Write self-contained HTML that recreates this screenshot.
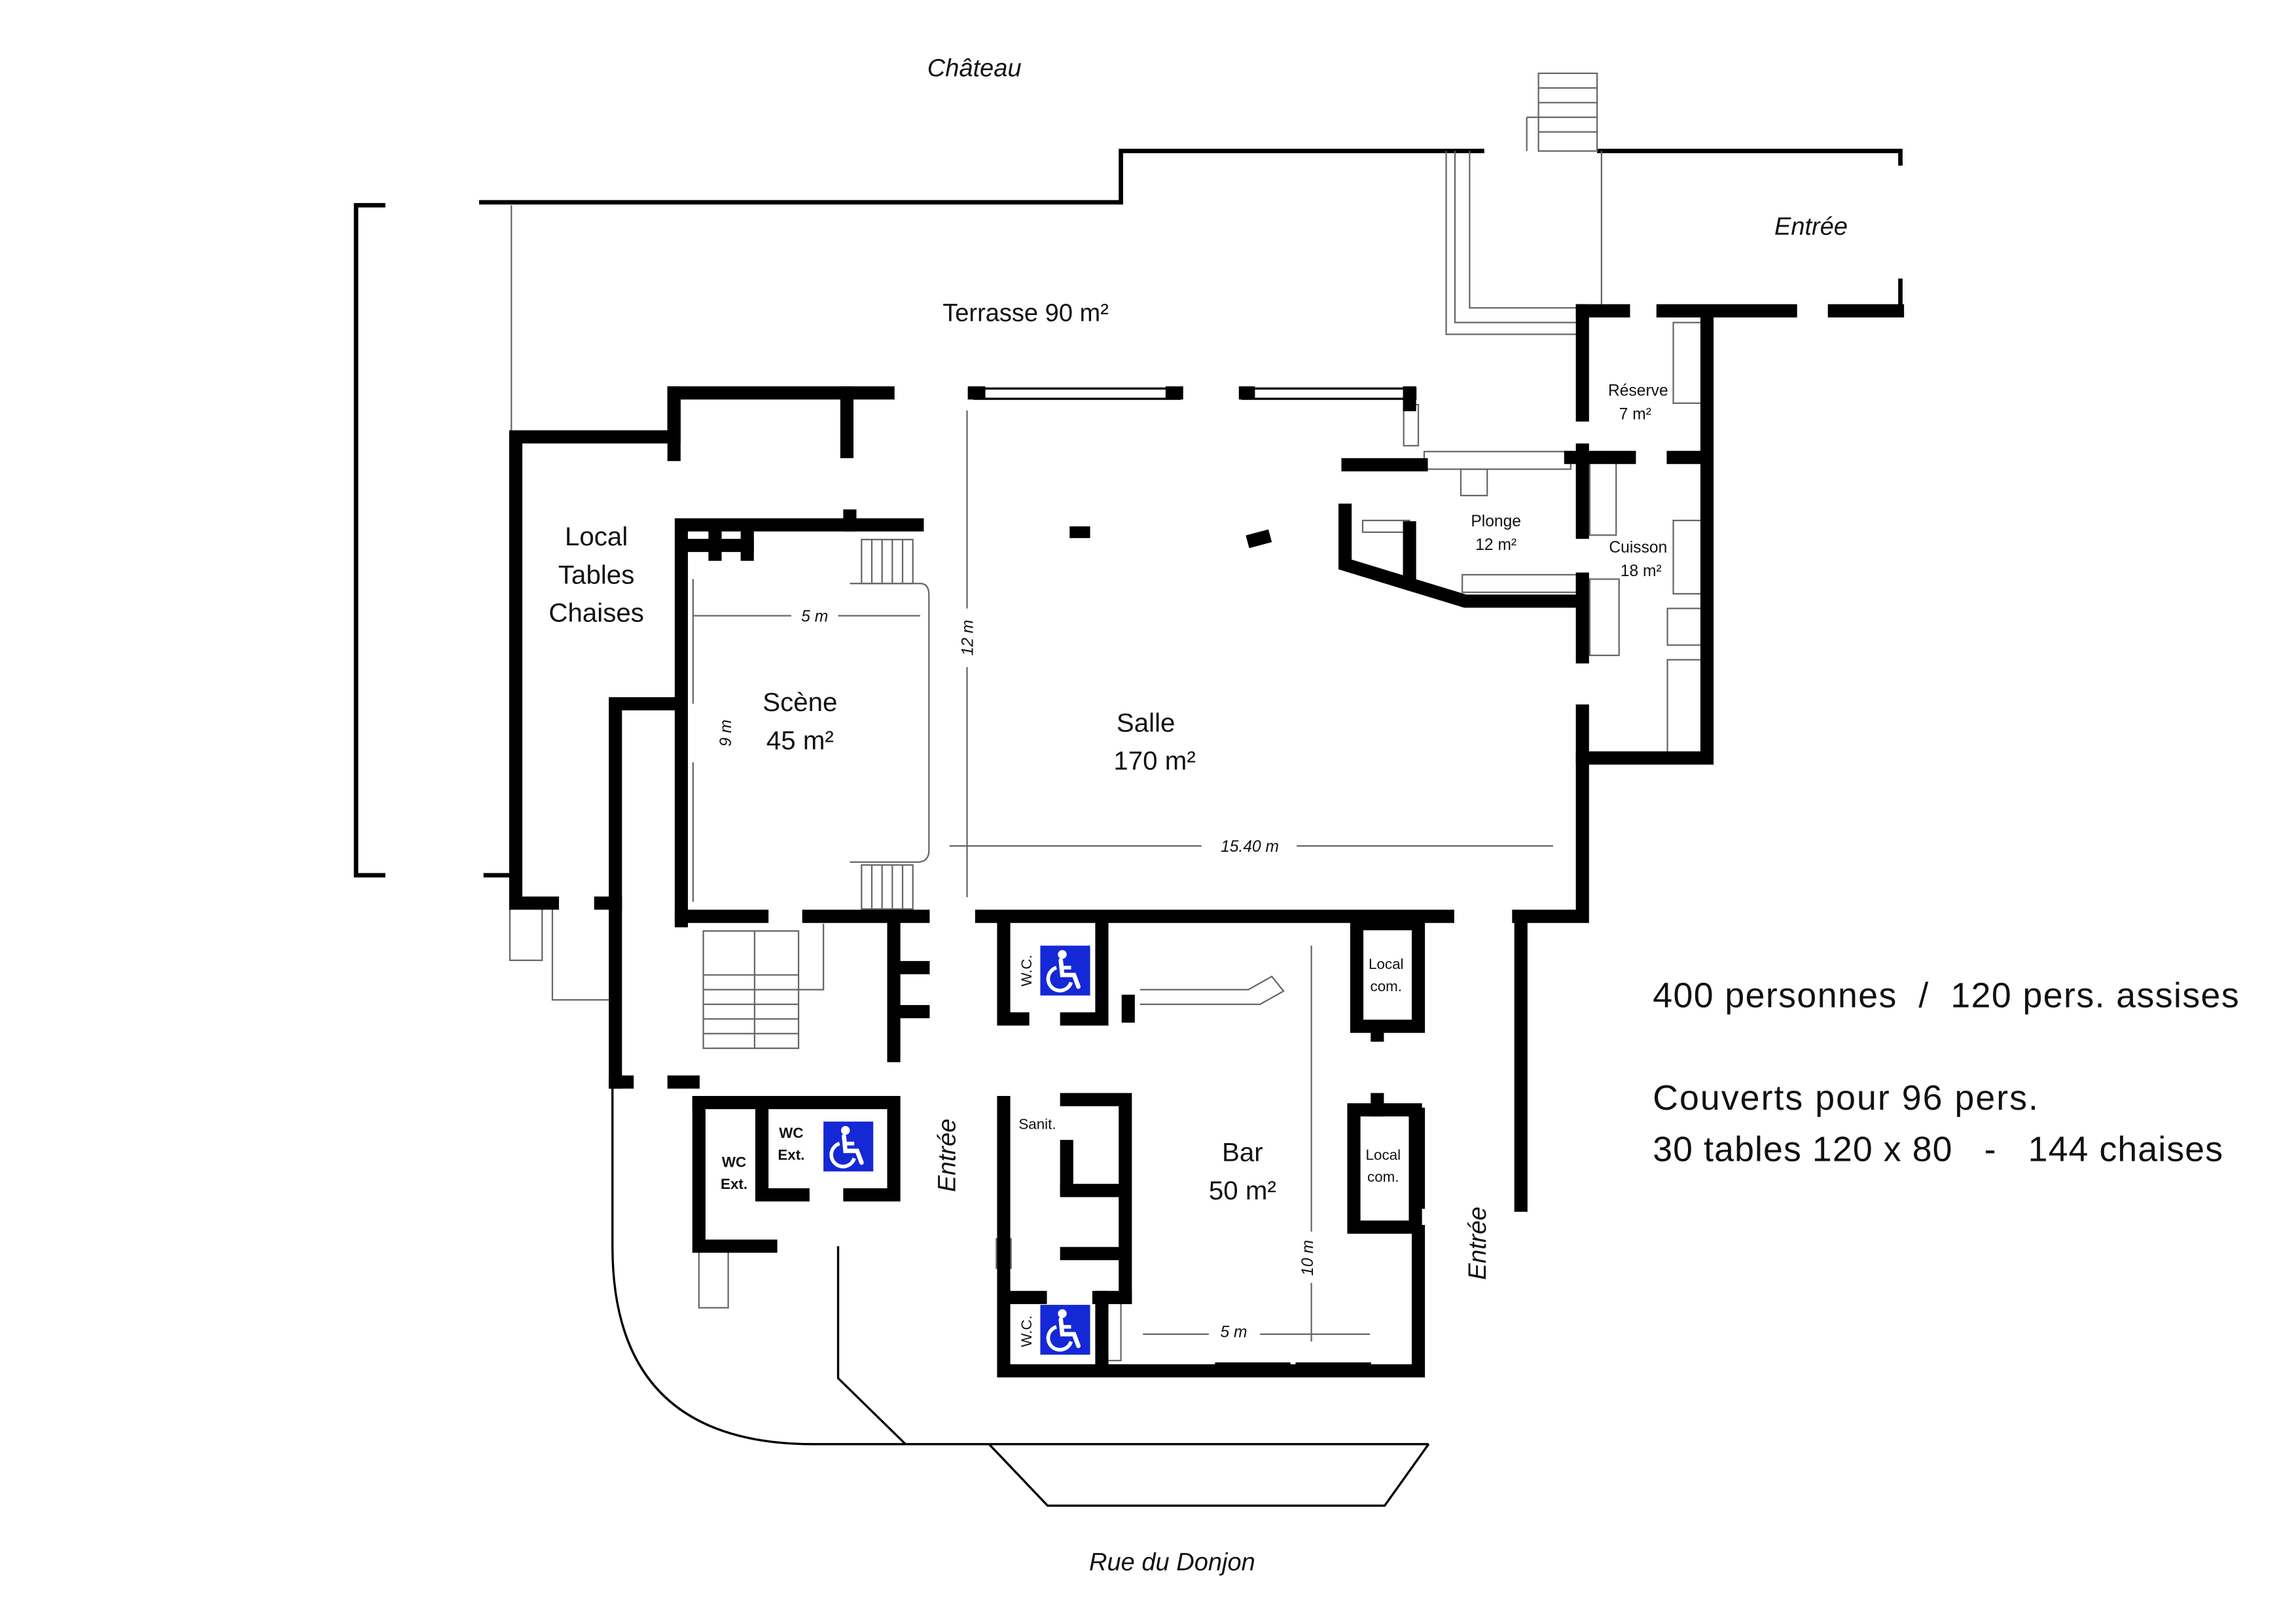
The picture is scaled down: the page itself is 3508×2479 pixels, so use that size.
<!DOCTYPE html>
<html><head><meta charset="utf-8"><style>
html,body{margin:0;padding:0;background:#fff}
svg{display:block}
text{font-family:"Liberation Sans",Arial,sans-serif;fill:#111}
.it{font-style:italic}
</style></head><body>
<svg width="3508" height="2479" viewBox="0 0 1567 1107" preserveAspectRatio="none" xmlns="http://www.w3.org/2000/svg">
<defs>
<g id="wc">
<rect x="0" y="0" width="34" height="34" fill="#1428d6"/>
<circle cx="15" cy="6" r="3" fill="#fff"/>
<path d="M14,10 L15,20 H23 L26,28" stroke="#fff" stroke-width="3" fill="none" stroke-linecap="round"/>
<path d="M14,15 H21" stroke="#fff" stroke-width="2.5"/>
<path d="M11,15 A8,8 0 1 0 21,25" stroke="#fff" stroke-width="2.5" fill="none"/>
</g>
</defs>
<rect width="1567" height="1107" fill="#fff"/>
<g stroke="#000" stroke-width="3" fill="none">
<polyline points="327,138 765,138 765,103 1013,103"/>
<polyline points="1090,103 1297,103 1297,113"/>
<line x1="1297" y1="190" x2="1297" y2="215"/>
<polyline points="263,140 243,140 243,597 263,597"/>
<line x1="330" y1="597" x2="348" y2="597"/>
</g>
<g stroke="#666" stroke-width="1" fill="none">
<line x1="349" y1="140" x2="349" y2="295"/>
<polyline points="987,103 987,228 1077,228"/>
<polyline points="993,103 993,220 1077,220"/>
<polyline points="1003,103 1003,210 1077,210"/>
<line x1="1093" y1="103" x2="1093" y2="212"/>
<rect x="1050" y="50" width="40" height="53"/>
<line x1="1042" y1="80" x2="1050" y2="80"/><line x1="1042" y1="80" x2="1042" y2="103"/>
<line x1="1050" y1="60" x2="1090" y2="60"/><line x1="1050" y1="70" x2="1090" y2="70"/><line x1="1050" y1="80" x2="1090" y2="80"/><line x1="1050" y1="90" x2="1090" y2="90"/>
<rect x="588" y="368" width="35" height="30"/>
<line x1="595" y1="368" x2="595" y2="398"/><line x1="602" y1="368" x2="602" y2="398"/><line x1="609" y1="368" x2="609" y2="398"/><line x1="616" y1="368" x2="616" y2="398"/>
<rect x="588" y="590" width="35" height="30"/>
<line x1="595" y1="590" x2="595" y2="620"/><line x1="602" y1="590" x2="602" y2="620"/><line x1="609" y1="590" x2="609" y2="620"/><line x1="616" y1="590" x2="616" y2="620"/>
<path d="M580,398 H628 Q634,398 634,406 V580 Q634,588 626,588 H580"/>
<rect x="480" y="635" width="65" height="80"/>
<line x1="480" y1="665" x2="545" y2="665"/><line x1="480" y1="675" x2="545" y2="675"/><line x1="480" y1="685" x2="545" y2="685"/><line x1="480" y1="695" x2="545" y2="695"/><line x1="480" y1="705" x2="545" y2="705"/>
<polyline points="515,635 515,715"/>
<polyline points="545,675 562,675 562,630"/>
<rect x="348" y="620" width="22" height="35"/>
<polyline points="377,620 377,682 418,682"/>
<rect x="477" y="852" width="20" height="40"/>
<polyline points="778,685 860,685 876,676 868,666 852,675 778,675"/>
<rect x="972" y="308" width="100" height="12"/><rect x="997" y="320" width="18" height="18"/>
<rect x="998" y="392" width="78" height="12"/><rect x="1085" y="315" width="18" height="50"/>
<rect x="1085" y="395" width="20" height="52"/><rect x="1142" y="220" width="22" height="55"/>
<rect x="1142" y="355" width="22" height="50"/><rect x="1138" y="415" width="26" height="25"/>
<rect x="1138" y="450" width="26" height="65"/>
<rect x="958" y="276" width="10" height="28"/>
<rect x="930" y="355" width="32" height="8"/>
<line x1="473" y1="420" x2="540" y2="420"/><line x1="572" y1="420" x2="628" y2="420"/>
<line x1="473" y1="395" x2="473" y2="480"/><line x1="473" y1="520" x2="473" y2="615"/>
<line x1="660" y1="280" x2="660" y2="415"/><line x1="660" y1="455" x2="660" y2="612"/>
<line x1="648" y1="577" x2="820" y2="577"/><line x1="885" y1="577" x2="1060" y2="577"/>
<line x1="895" y1="645" x2="895" y2="840"/><line x1="895" y1="875" x2="895" y2="915"/>
<line x1="780" y1="910" x2="825" y2="910"/><line x1="860" y1="910" x2="935" y2="910"/>
<rect x="680" y="845" width="10" height="20"/>
<rect x="755" y="888" width="10" height="40"/>
</g>
<g stroke="#000" stroke-width="1.5" fill="none">
<path d="M418,740 V850 Q418,985 555,985 H975"/>
<polyline points="572,850 572,940 618,985"/>
<polyline points="675,985 715,1027 945,1027 975,985"/>
<rect x="665" y="265" width="140" height="7"/>
<rect x="848" y="265" width="118" height="7"/>
<rect x="830" y="930" width="50" height="8" fill="#fff"/>
<rect x="885" y="930" width="50" height="8" fill="#fff"/>
</g>
<g stroke="#000" stroke-width="9" fill="none" stroke-linecap="square">
<polyline points="377,616 352,616 352,298 460,298 460,268 606,268"/>
<line x1="460" y1="268" x2="460" y2="310"/>
<line x1="578" y1="268" x2="578" y2="308"/>
<polyline points="465,628 465,358 626,358"/>
<line x1="580" y1="352" x2="580" y2="358"/>
<polyline points="460,480 420,480 420,738"/>
<line x1="410" y1="616" x2="420" y2="616"/>
<line x1="428" y1="738" x2="420" y2="738"/>
<line x1="460" y1="738" x2="473" y2="738"/>
<line x1="665" y1="268" x2="668" y2="268"/><line x1="800" y1="268" x2="803" y2="268"/>
<line x1="850" y1="268" x2="852" y2="268"/>
<line x1="962" y1="268" x2="962" y2="276"/>
<line x1="1080" y1="212" x2="1108" y2="212"/><line x1="1135" y1="212" x2="1222" y2="212"/><line x1="1252" y1="212" x2="1295" y2="212"/>
<line x1="1080" y1="212" x2="1080" y2="283"/>
<line x1="1080" y1="307" x2="1080" y2="363"/>
<line x1="1080" y1="395" x2="1080" y2="448"/>
<polyline points="1080,485 1080,625 1032,625 1038,625 1038,822"/>
<polyline points="1080,517 1165,517 1165,215"/>
<line x1="1072" y1="312" x2="1112" y2="312"/><line x1="1142" y1="312" x2="1162" y2="312"/>
<line x1="920" y1="317" x2="970" y2="317"/>
<polyline points="918,348 918,385 1000,410 1076,410"/>
<line x1="962" y1="360" x2="962" y2="395"/>
<line x1="465" y1="625" x2="520" y2="625"/>
<line x1="552" y1="625" x2="630" y2="625"/>
<line x1="670" y1="625" x2="988" y2="625"/>
<line x1="610" y1="630" x2="610" y2="720"/>
<line x1="612" y1="660" x2="630" y2="660"/><line x1="612" y1="690" x2="630" y2="690"/>
<polyline points="685,630 685,695 698,695"/>
<polyline points="752,630 752,695 728,695"/>
<line x1="770" y1="683" x2="770" y2="693"/>
<rect x="926" y="630" width="42" height="70"/>
<line x1="940" y1="700" x2="940" y2="706"/>
<polyline points="685,752 685,935 968,935 968,840"/>
<line x1="968" y1="760" x2="968" y2="820"/>
<rect x="924" y="757" width="42" height="80"/>
<line x1="940" y1="750" x2="940" y2="757"/>
<polyline points="728,750 768,750 768,885"/>
<line x1="728" y1="782" x2="728" y2="810"/>
<line x1="728" y1="812" x2="766" y2="812"/>
<line x1="728" y1="855" x2="766" y2="855"/>
<polyline points="688,885 710,885"/>
<line x1="750" y1="885" x2="768" y2="885"/>
<line x1="752" y1="885" x2="752" y2="930"/>
<polyline points="477,752 610,752 610,815 580,815"/>
<polyline points="477,752 477,850 526,850"/>
<polyline points="520,752 520,815 548,815"/>
<line x1="470" y1="372" x2="510" y2="372"/>
<line x1="488" y1="365" x2="488" y2="378"/>
<line x1="510" y1="362" x2="510" y2="378"/>
</g>
<rect x="730" y="359" width="14" height="8" fill="#000"/>
<rect x="851" y="363" width="16" height="9" fill="#000" transform="rotate(-15 859 367)"/>
<use href="#wc" x="710" y="645"/>
<use href="#wc" x="562" y="765"/>
<use href="#wc" x="710" y="890"/>
<text x="665" y="52" font-size="17" class="it" text-anchor="middle">Château</text>
<text x="1236" y="160" font-size="17" class="it" text-anchor="middle">Entrée</text>
<text x="700" y="219" font-size="17" text-anchor="middle">Terrasse 90 m²</text>
<text x="407" y="372" font-size="18" text-anchor="middle">Local</text>
<text x="407" y="398" font-size="18" text-anchor="middle">Tables</text>
<text x="407" y="424" font-size="18" text-anchor="middle">Chaises</text>
<text x="546" y="485" font-size="18" text-anchor="middle">Scène</text>
<text x="546" y="511" font-size="18" text-anchor="middle">45 m²</text>
<text x="782" y="499" font-size="18" text-anchor="middle">Salle</text>
<text x="788" y="525" font-size="18" text-anchor="middle">170 m²</text>
<text x="556" y="424" font-size="11" class="it" text-anchor="middle">5 m</text>
<text x="853" y="581" font-size="11" class="it" text-anchor="middle">15.40 m</text>
<text x="0" y="0" font-size="11" class="it" text-anchor="middle" transform="translate(499,500) rotate(-90)">9 m</text>
<text x="0" y="0" font-size="11" class="it" text-anchor="middle" transform="translate(664,435) rotate(-90)">12 m</text>
<text x="1118" y="270" font-size="11" text-anchor="middle">Réserve</text>
<text x="1116" y="286" font-size="11" text-anchor="middle">7 m²</text>
<text x="1021" y="359" font-size="11" text-anchor="middle">Plonge</text>
<text x="1021" y="375" font-size="11" text-anchor="middle">12 m²</text>
<text x="1118" y="377" font-size="11" text-anchor="middle">Cuisson</text>
<text x="1120" y="393" font-size="11" text-anchor="middle">18 m²</text>
<text x="946" y="661" font-size="10" text-anchor="middle">Local</text>
<text x="946" y="676" font-size="10" text-anchor="middle">com.</text>
<text x="944" y="791" font-size="10" text-anchor="middle">Local</text>
<text x="944" y="806" font-size="10" text-anchor="middle">com.</text>
<text x="0" y="0" font-size="10" text-anchor="middle" transform="translate(704,662) rotate(-90)">W.C.</text>
<text x="0" y="0" font-size="10" text-anchor="middle" transform="translate(704,908) rotate(-90)">W.C.</text>
<text x="708" y="770" font-size="10" text-anchor="middle">Sanit.</text>
<text x="848" y="792" font-size="18" text-anchor="middle">Bar</text>
<text x="848" y="818" font-size="18" text-anchor="middle">50 m²</text>
<text x="0" y="0" font-size="11" class="it" text-anchor="middle" transform="translate(896,858) rotate(-90)">10 m</text>
<text x="842" y="912" font-size="11" class="it" text-anchor="middle">5 m</text>
<text x="540" y="776" font-size="10" font-weight="bold" text-anchor="middle">WC</text>
<text x="540" y="791" font-size="10" font-weight="bold" text-anchor="middle">Ext.</text>
<text x="501" y="796" font-size="10" font-weight="bold" text-anchor="middle">WC</text>
<text x="501" y="811" font-size="10" font-weight="bold" text-anchor="middle">Ext.</text>
<text x="0" y="0" font-size="17" class="it" text-anchor="middle" transform="translate(652,788) rotate(-90)">Entrée</text>
<text x="0" y="0" font-size="17" class="it" text-anchor="middle" transform="translate(1014,848) rotate(-90)">Entrée</text>
<text x="800" y="1071" font-size="17" class="it" text-anchor="middle">Rue du Donjon</text>
<text x="1128" y="687" font-size="24" textLength="400" lengthAdjust="spacing" xml:space="preserve">400 personnes  /  120 pers. assises</text>
<text x="1128" y="757" font-size="24" textLength="263" lengthAdjust="spacing">Couverts pour 96 pers.</text>
<text x="1128" y="792" font-size="24" textLength="389" lengthAdjust="spacing" xml:space="preserve">30 tables 120 x 80   -   144 chaises</text>
</svg>
</body></html>
